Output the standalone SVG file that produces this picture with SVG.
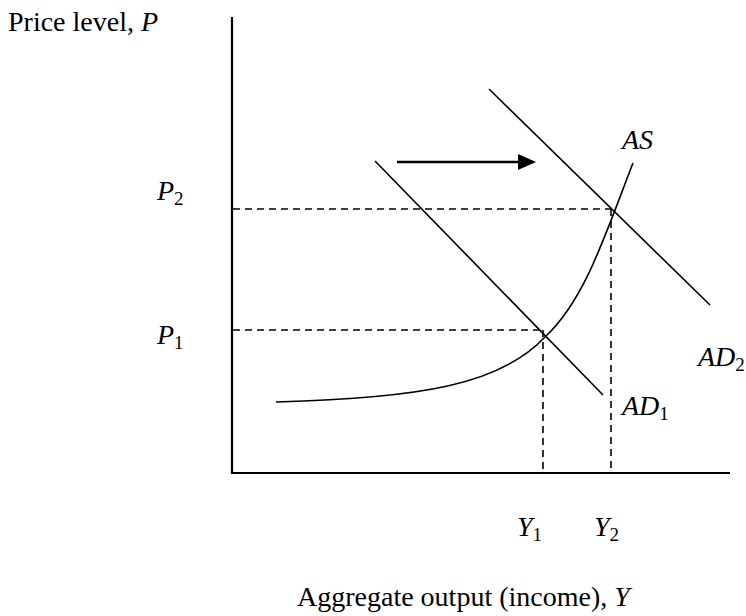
<svg xmlns="http://www.w3.org/2000/svg" width="746" height="616" viewBox="0 0 746 616">
<style>
text{font-family:"Liberation Serif","Times New Roman",serif;font-size:28px;fill:#000}
.i{font-style:italic}
.sub{font-size:19px;font-style:normal}
.ax{stroke:#000;stroke-width:2.2;fill:none}
.ln{stroke:#000;stroke-width:1.6;fill:none}
.dash{stroke:#000;stroke-width:1.6;stroke-dasharray:7 5;fill:none}
</style>
<rect width="746" height="616" fill="#fff"/>
<g id="axes">
<line class="ax" x1="232" y1="17" x2="232" y2="474"/>
<line class="ax" x1="231" y1="473" x2="730" y2="473"/>
<text x="8" y="31">Price level, <tspan class="i">P</tspan></text>
<text x="297" y="606">Aggregate output (income), <tspan class="i">Y</tspan></text>
</g>
<g id="guides">
<line class="dash" x1="233" y1="209" x2="612" y2="209"/>
<line class="dash" x1="233" y1="330" x2="543" y2="330"/>
<line class="dash" x1="543" y1="330" x2="543" y2="473"/>
<line class="dash" x1="611" y1="209" x2="611" y2="473"/>
</g>
<g id="AD1">
<line class="ln" x1="375" y1="161" x2="603" y2="395"/>
<text x="622" y="415"><tspan class="i">AD</tspan><tspan class="sub" dy="5">1</tspan></text>
</g>
<g id="AD2">
<line class="ln" x1="489" y1="89" x2="710" y2="305"/>
<text x="698" y="366"><tspan class="i">AD</tspan><tspan class="sub" dy="5">2</tspan></text>
</g>
<g id="AS">
<path class="ln" d="M276,402 C420,398 500,385 545,337 C585,300 605,235 633,163"/>
<text x="622" y="149" class="i">AS</text>
</g>
<g id="labels">
<text x="157" y="200"><tspan class="i">P</tspan><tspan class="sub" dy="5">2</tspan></text>
<text x="157" y="344"><tspan class="i">P</tspan><tspan class="sub" dy="5">1</tspan></text>
<text x="517" y="536"><tspan class="i">Y</tspan><tspan class="sub" dy="5">1</tspan></text>
<text x="594" y="536"><tspan class="i">Y</tspan><tspan class="sub" dy="5">2</tspan></text>
</g>
<g id="connectors">
<line stroke="#000" stroke-width="2.6" x1="397" y1="162" x2="522" y2="162"/>
<polygon points="518,154 536,162 518,170" fill="#000"/>
</g>
</svg>
